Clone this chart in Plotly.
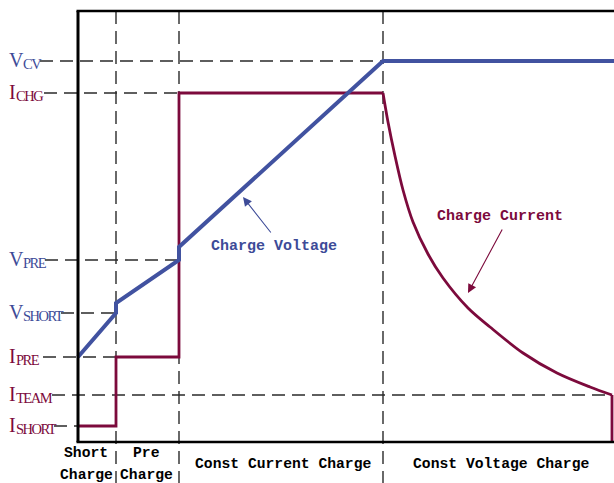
import plotly.graph_objects as go

# ---------------- data ----------------
# phase boundaries along the time axis (arbitrary time units)
phase_edges = [0, 38, 101, 305, 536]
phase_labels = [["Short", "Charge"], ["Pre", "Charge"],
                 ["Const Current Charge"], ["Const Voltage Charge"]]

# reference levels (arbitrary units)
level_main = ["V", "I", "V", "V", "I", "I", "I"]
level_sub = ["CV", "CHG", "PRE", "SHORT", "PRE", "TEAM", "SHORT"]
level_values = [381, 349, 182, 129, 85, 47, 16]

# charge voltage curve
voltage_t = [0, 38, 38, 101, 101, 305, 536]
voltage_v = [85, 129, 139, 182, 195, 381, 381]

# charge current: step part, constant-voltage decay part
current_step_t = [0, 38, 38, 101, 101, 305]
current_step_i = [16, 16, 85, 85, 349, 349]
current_decay_t = [305, 310, 317, 325, 335, 350, 365, 390, 412, 445, 479, 512, 534]
current_decay_i = [349, 320, 286, 252, 220, 188, 164, 134, 115, 89, 69, 55, 47]
current_end_i = 0

# ---------------- styles ----------------
BLUE = "#4152a0"
BLUE_TXT = "#3d4b98"
RED = "#7c0a3c"
GUIDE = "#2a2a2a"
MONO = "Liberation Mono"
SERIF = "Liberation Serif"

XMIN, XMAX = -78, 536
YMIN, YMAX = -41, 442
TOP = 431

fig = go.Figure()

fig.add_trace(go.Scatter(x=current_step_t, y=current_step_i, mode="lines",
                         line=dict(color=RED, width=2.8), hoverinfo="skip"))
fig.add_trace(go.Scatter(x=current_decay_t, y=current_decay_i, mode="lines",
                         line=dict(color=RED, width=2.8, shape="spline", smoothing=0.9),
                         hoverinfo="skip"))
fig.add_trace(go.Scatter(x=[current_decay_t[-1], current_decay_t[-1]],
                         y=[current_decay_i[-1], current_end_i], mode="lines",
                         line=dict(color=RED, width=2.8), hoverinfo="skip"))
fig.add_trace(go.Scatter(x=voltage_t, y=voltage_v, mode="lines",
                         line=dict(color=BLUE, width=4), hoverinfo="skip"))

shapes = []
dash = "13px,7px"
# vertical phase guides
for xe in phase_edges[1:4]:
    shapes.append(dict(type="line", xref="x", yref="y", x0=xe, x1=xe, y0=TOP, y1=YMIN,
                       line=dict(color=GUIDE, width=1.4, dash=dash), layer="below"))

# horizontal level guides: left start (label side) and right end
guide_start = [-38, -34, -33, -17, -35, -26, -24]
guide_end = [phase_edges[3], phase_edges[2], phase_edges[2], phase_edges[1],
             phase_edges[1], current_decay_t[-1], 0]
for ys, xs0, xs1 in zip(level_values, guide_start, guide_end):
    shapes.append(dict(type="line", xref="x", yref="y", x0=xs0, x1=xs1, y0=ys, y1=ys,
                       line=dict(color=GUIDE, width=1.4, dash=dash), layer="below"))

# frame
shapes.append(dict(type="line", x0=0, x1=0, y0=0, y1=TOP, line=dict(color="black", width=3)))
shapes.append(dict(type="line", x0=-1.5, x1=XMAX, y0=TOP, y1=TOP, line=dict(color="black", width=2.5)))
shapes.append(dict(type="line", x0=-1.5, x1=XMAX, y0=0, y1=0, line=dict(color="black", width=2.5)))

annotations = []
# left level labels
for m, s, v in zip(level_main, level_sub, level_values):
    col = BLUE_TXT if m == "V" else RED
    mw = 14 if m == "V" else 6.5
    annotations.append(dict(x=-71, y=v, xref="x", yref="y", text=m, showarrow=False,
                            xanchor="left", yanchor="middle", yshift=1,
                            font=dict(family=SERIF, size=20, color=col)))
    annotations.append(dict(x=-71 + mw, y=v, xref="x", yref="y",
                            text='<span style="letter-spacing:-1.5px">' + s + '</span>',
                            showarrow=False, xanchor="left", yanchor="middle", yshift=-3,
                            font=dict(family=SERIF, size=14.5, color=col)))

# phase labels
label_xoff = [-11, -1, 2, 2]
for i, lines in enumerate(phase_labels):
    xc = (phase_edges[i] + phase_edges[i + 1]) / 2 + label_xoff[i]
    if len(lines) == 2:
        ys = [-11, -33]
    else:
        ys = [-22]
    for txt, yy in zip(lines, ys):
        annotations.append(dict(x=xc, y=yy, xref="x", yref="y", text=txt, showarrow=False,
                                xanchor="center", yanchor="middle",
                                font=dict(family=MONO, size=14.7, color="black", weight="bold")))

# curve labels + arrows
annotations.append(dict(x=196, y=196, xref="x", yref="y", text="Charge Voltage",
                        showarrow=False, font=dict(family=MONO, size=15, color=BLUE_TXT, weight="bold")))
annotations.append(dict(x=165, y=245, ax=194, ay=208, xref="x", yref="y", axref="x", ayref="y",
                        text="", showarrow=True, arrowhead=2, arrowsize=1.6, arrowwidth=1.1,
                        arrowcolor=BLUE_TXT, standoff=0, startstandoff=0))
annotations.append(dict(x=422, y=226, xref="x", yref="y", text="Charge Current",
                        showarrow=False, font=dict(family=MONO, size=15, color=RED, weight="bold")))
annotations.append(dict(x=390, y=149, ax=425, ay=214, xref="x", yref="y", axref="x", ayref="y",
                        text="", showarrow=True, arrowhead=2, arrowsize=1.6, arrowwidth=1.1,
                        arrowcolor=RED, standoff=0, startstandoff=0))

fig.update_layout(
    width=614, height=483, autosize=False,
    margin=dict(l=0, r=0, t=0, b=0),
    paper_bgcolor="white", plot_bgcolor="white",
    showlegend=False,
    xaxis=dict(range=[XMIN, XMAX], visible=False, fixedrange=True),
    yaxis=dict(range=[YMIN, YMAX], visible=False, fixedrange=True),
    shapes=shapes, annotations=annotations,
)

fig.write_html("out.html", config={"displayModeBar": False},
               post_script="document.body.style.margin='0';")
